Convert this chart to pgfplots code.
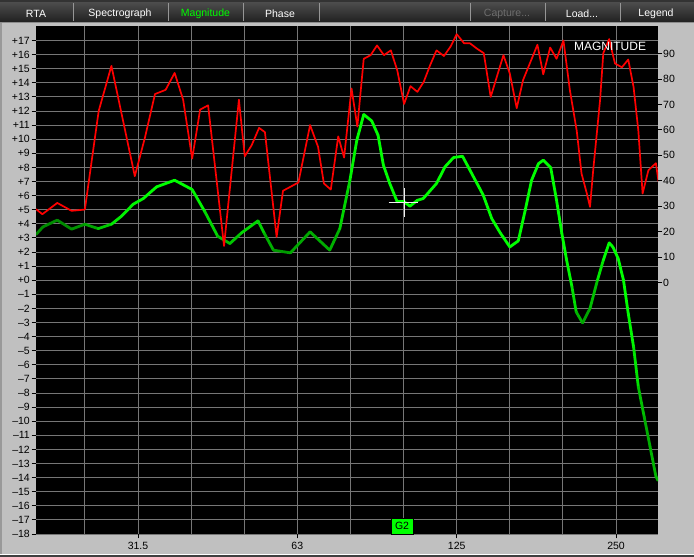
\documentclass[border=0pt]{standalone}
\usepackage{pgfplots}
\pgfplotsset{compat=1.18}
\usepackage{pgfplotstable}
\usepackage{fontspec}
\setmainfont{Liberation Sans}

\definecolor{panel}{RGB}{192,192,192}
\definecolor{gridc}{RGB}{118,118,118}
\definecolor{magred}{RGB}{255,0,0}
\definecolor{capgray}{RGB}{110,110,110}
\definecolor{tabgreen}{RGB}{0,255,0}
\definecolor{sepgray}{RGB}{150,150,150}

% x = third-octave band number (15 = 31.5 Hz, 18 = 63, 21 = 125, 24 = 250)
\pgfplotstableread{
x y
13.08 5.04
13.20 4.68
13.48 5.48
13.75 4.92
14.00 5.01
14.26 12.0
14.50 15.2
14.94 7.38
15.13 10.1
15.32 13.2
15.52 13.5
15.69 14.7
15.85 12.8
16.02 8.63
16.17 12.1
16.32 12.4
16.62 2.43
16.90 12.8
17.01 8.79
17.14 9.57
17.28 10.8
17.39 10.5
17.61 3.07
17.73 6.34
18.02 6.93
18.24 11.0
18.39 9.46
18.50 6.86
18.63 6.43
18.77 10.2
18.88 8.7
19.02 13.6
19.13 10.9
19.25 15.7
19.38 15.96
19.50 16.65
19.63 15.96
19.76 16.3
19.88 14.9
20.01 12.5
20.13 13.76
20.26 13.36
20.38 14.07
20.50 15.25
20.62 16.3
20.76 15.9
20.89 16.6
21.00 17.45
21.14 16.8
21.25 16.8
21.39 16.4
21.51 16.1
21.64 13.0
21.88 15.96
22.00 14.66
22.13 12.2
22.25 14.2
22.38 15.4
22.52 16.7
22.63 14.6
22.76 16.5
22.88 15.7
23.01 17.0
23.13 13.5
23.26 10.6
23.35 7.57
23.45 6.15
23.51 5.2
23.57 7.8
23.70 12.8
23.76 16.1
23.87 17.1
23.98 15.37
24.11 15.1
24.23 15.65
24.33 13.7
24.42 10.6
24.50 6.15
24.61 7.8
24.75 8.3
24.80 7.0
}\redtab

% c = brightness of the trace (0 dark green, 1 bright green)
\pgfplotstableread{
x y c
13.08 3.24 0.2
13.21 3.78 0.2
13.48 4.26 0.2
13.75 3.62 0.2
14.00 3.97 0.3
14.25 3.66 0.45
14.50 3.97 0.8
14.69 4.54 0.9
14.91 5.39 0.9
15.10 5.79 1
15.22 6.19 1
15.35 6.62 1
15.69 7.09 1
16.02 6.43 1
16.26 4.85 0.85
16.50 3.12 0.6
16.73 2.60 0.5
16.95 3.36 0.7
17.26 4.21 0.75
17.38 3.31 0.6
17.55 2.13 0.3
17.87 1.94 0.3
18.24 3.43 0.5
18.61 2.13 0.35
18.80 3.66 0.55
18.99 7.09 0.85
19.12 9.93 1
19.25 11.75 1
19.40 11.3 1
19.52 10.28 1
19.62 8.16 1
19.74 6.86 1
19.88 5.56 1
20.01 5.56 1
20.12 5.25 1
20.26 5.67 1
20.37 5.79 1
20.62 6.86 1
20.78 8.04 1
20.94 8.70 1
21.11 8.79 1
21.25 7.80 1
21.50 6.03 1
21.66 4.37 1
21.82 3.36 1
22.00 2.36 1
22.16 2.79 1
22.29 4.96 1
22.41 7.09 1
22.54 8.27 1
22.63 8.51 1
22.77 7.99 1
22.88 5.67 1
22.98 3.31 1
23.07 1.42 1
23.17 -0.47 0.9
23.25 -2.25 0.6
23.37 -3.03 0.35
23.51 -2.0 0.4
23.65 0.0 0.7
23.76 1.42 0.95
23.87 2.65 1
23.94 2.36 1
24.04 1.54 1
24.14 0.0 1
24.23 -2.36 1
24.33 -4.73 0.9
24.42 -7.57 0.7
24.53 -9.69 0.4
24.64 -11.8 0.45
24.75 -13.9 0.5
24.79 -14.2 0.5
}\greentab

\begin{document}
\begin{tikzpicture}[x=1pt,y=1pt]
% window panel and toolbar
\fill[panel] (0,0) rectangle (694,534);
\fill[black!40] (0,0) rectangle (1.5,534);
\fill[black!75] (0,0) rectangle (694,1.5);
\fill[white] (0,1.5) rectangle (694,3);
\shade[top color={rgb,255:red,82;green,82;blue,82}, bottom color={rgb,255:red,30;green,30;blue,30}] (0,534) rectangle (694,557);
\fill[black!80] (0,555) rectangle (694,557);
\draw[black!45, line width=1pt] (0,534) -- (694,534);
\foreach \sx in {73,168,243,319,470,545,620}
  \draw[sepgray, line width=0.8pt] (\sx,536) -- (\sx,554);
\begin{scope}[every node/.style={font=\fontsize{10.5}{12}\selectfont, inner sep=0pt}]
\node[white] at (36,543.5) {RTA};
\node[white] at (120,543.5) {Spectrograph};
\node[tabgreen] at (205.5,543.5) {Magnitude};
\node[white] at (280,543.5) {Phase};
\node[capgray] at (507,543.5) {Capture...};
\node[white] at (582,543.5) {Load...};
\node[white] at (656,543.5) {Legend};
\end{scope}

\begin{axis}[
  at={(36pt,23pt)}, anchor=south west,
  scale only axis, width=622pt, height=508.3pt,
  xmin=13.08, xmax=24.79, ymin=-18, ymax=18.05,
  axis background/.style={fill=black},
  axis line style={draw=none},
  xtick={15,18,21,24}, xticklabels={31.5,63,125,250},
  minor xtick={14,16,17,19,20,22,23},
  ytick={-18,...,17},
  yticklabels={--18,--17,--16,--15,--14,--13,--12,--11,--10,--9,--8,--7,--6,--5,--4,--3,--2,--1,+0,+1,+2,+3,+4,+5,+6,+7,+8,+9,+10,+11,+12,+13,+14,+15,+16,+17},
  grid=both,
  major grid style={gridc, line width=0.9pt},
  minor grid style={gridc, line width=0.9pt},
  tick align=outside, xtick pos=bottom, ytick pos=left,
  major tick length=4.5pt, minor tick length=0pt,
  major tick style={black, line width=0.9pt},
  tick label style={font=\fontsize{10.5}{12}\selectfont, black},
  yticklabel style={inner xsep=1.5pt},
  xticklabel style={inner ysep=3pt},
  colormap={gmap}{rgb255=(0,110,0) rgb255=(0,255,0)},
  point meta min=0, point meta max=1,
]
\addplot[mesh, point meta=explicit, line width=2.8pt, line cap=round, line join=round]
  table[x=x, y=y, meta=c] {\greentab};
\addplot[magred, line width=1.7pt, line join=round, mark=none]
  table[x=x, y=y] {\redtab};
% cursor
\draw[white!90!gray, line width=1pt] (axis cs:19.72,5.51) -- (axis cs:20.27,5.51);
\draw[white!90!gray, line width=1pt] (axis cs:20.01,6.52) -- (axis cs:20.01,4.47);
\end{axis}

\begin{axis}[
  at={(36pt,23pt)}, anchor=south west,
  scale only axis, width=622pt, height=508.3pt,
  xmin=13.08, xmax=24.79, ymin=-99, ymax=101,
  axis x line=none, axis y line*=right,
  axis line style={draw=none},
  ytick={0,10,...,90},
  yticklabels={0,10,20,30,40,50,60,70,80,90},
  tick align=outside, major tick length=4pt,
  major tick style={black, line width=0.9pt},
  tick label style={font=\fontsize{10.5}{12}\selectfont, black},
  yticklabel style={inner xsep=1pt},
]
\addplot[draw=none, forget plot] coordinates {(20,0)};
\end{axis}

\node[white, font=\fontsize{12}{14}\selectfont] at (610,511) {MAGNITUDE};
\draw[black, fill=tabgreen, line width=0.8pt] (391,23) rectangle (413,39);
\node[black, font=\fontsize{10.5}{12}\selectfont, inner sep=0pt] at (402,31) {G2};

\pgfresetboundingbox
\path (0,0) rectangle (694,557);
\end{tikzpicture}
\end{document}
